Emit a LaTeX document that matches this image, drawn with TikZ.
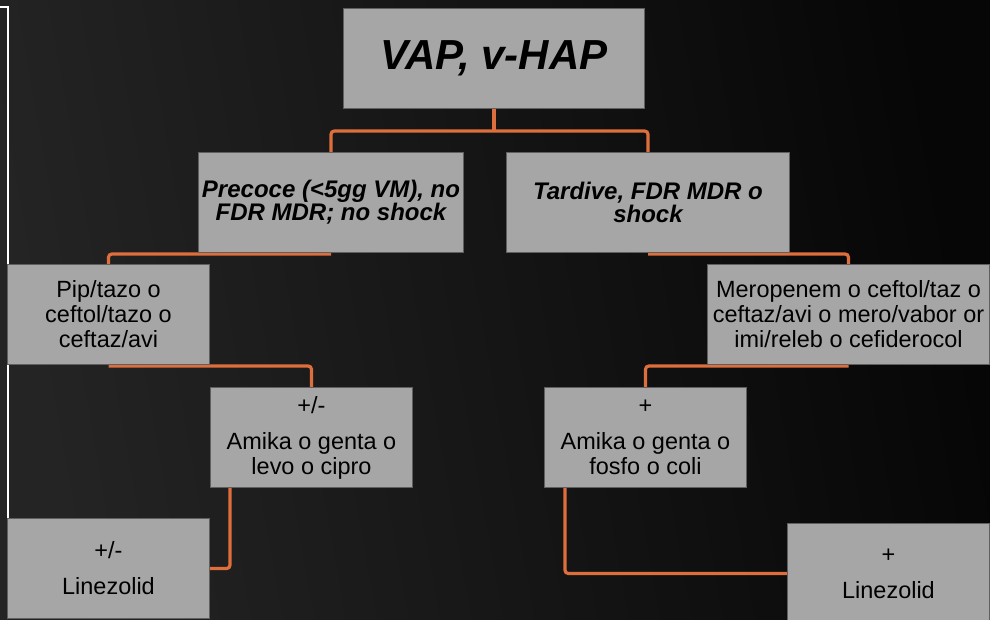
\documentclass[tikz,border=0pt]{standalone}
\usepackage{fontspec}
\setmainfont{Liberation Sans}
\usetikzlibrary{calc}
\pgfdeclarelayer{back}
\pgfdeclarelayer{wires}
\pgfsetlayers{back,wires,main}
\definecolor{boxgray}{RGB}{166,166,166}
\definecolor{boxline}{RGB}{95,95,95}
\definecolor{wire}{RGB}{222,110,60}
\definecolor{bgA}{RGB}{36,36,36}
\definecolor{bgM}{RGB}{24,24,24}
\definecolor{bgB}{RGB}{6,6,6}
\tikzset{
  box/.style={draw=boxline, line width=0.75pt, fill=boxgray, anchor=north west,
    inner sep=0pt, align=center, text=black, minimum height=75pt},
  regtext/.style={font=\fontsize{17.6pt}{18.75pt}\selectfont},
  bitext/.style={font=\bfseries\itshape\fontsize{18pt}{17.25pt}\selectfont},
  conn/.style={draw=wire, line width=2.4pt, rounded corners=2.5pt},
  frameline/.style={draw=white, line width=1.5pt},
}
\begin{document}
\begin{tikzpicture}[x=0.75pt,y=-0.75pt]
\useasboundingbox (0,0) rectangle (990,620);
\begin{pgfonlayer}{back}
  \shade[left color=bgA, middle color=bgM, right color=bgB, shading angle=100] (0,0) rectangle (990,620);
\end{pgfonlayer}
% frame line at left
\draw[frameline] (0,7) -- (8,7) -- (8,518);
% boxes
\node[box, minimum width=225.75pt, font=\bfseries\itshape\fontsize{31.5pt}{32pt}\selectfont] (vap) at (343,8) {VAP, v-HAP};
\node[box, bitext, minimum width=198.75pt] (pre) at (198,152) {Precoce (<5gg VM), no\\FDR MDR; no shock};
\node[box, bitext, minimum width=212.25pt] (tar) at (506,152) {Tardive, FDR MDR o\\shock};
\node[box, regtext, minimum width=151.5pt] (pip) at (7,264) {Pip/tazo o\\ceftol/tazo o\\ceftaz/avi};
\node[box, regtext, minimum width=211.5pt] (mer) at (707,264) {Meropenem o ceftol/taz o\\ceftaz/avi o mero/vabor or\\imi/releb o cefiderocol};
\node[box, regtext, minimum width=151.5pt] (aml) at (210,387) {+/-\\[8.25pt]Amika o genta o\\levo o cipro};
\node[box, regtext, minimum width=151.5pt] (amr) at (544,387) {+\\[8.25pt]Amika o genta o\\fosfo o coli};
\node[box, regtext, minimum width=151.5pt] (lzl) at (7,518) {+/-\\[8.25pt]Linezolid};
\node[box, regtext, minimum width=151.5pt] (lzr) at (787,523) {+\\[8.25pt]Linezolid};
% connectors
\begin{pgfonlayer}{wires}
  \coordinate (j1) at ($(vap.south)+(0,22)$);
  \draw[conn] (vap.south) -- (j1);
  \draw[conn] (pre.north) |- (j1) -| (tar.north);
  \draw[conn] ($(pre.south)+(0,1)$) -| (pip.north);
  \draw[conn] ($(tar.south)+(0,1)$) -| (mer.north);
  \draw[conn] ($(pip.south)+(0,1)$) -| (aml.north);
  \draw[conn] ($(mer.south)+(0,1)$) -| (amr.north);
  \draw[conn] ($(aml.south west)+(20,0)$) |- (lzl.east);
  \draw[conn] ($(amr.south west)+(21,0)$) |- (lzr.west);
\end{pgfonlayer}
\end{tikzpicture}
\end{document}
